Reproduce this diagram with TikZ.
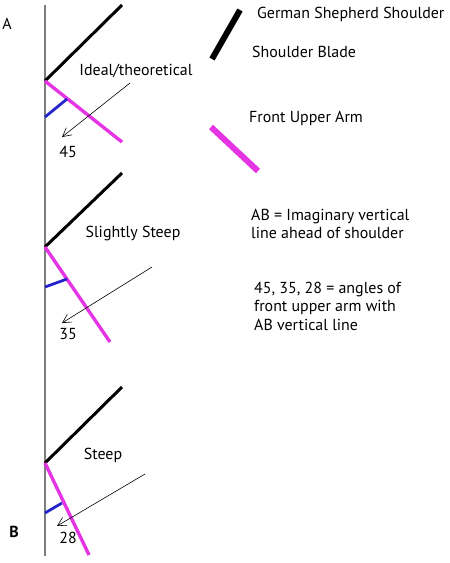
\documentclass[tikz,border=0pt]{standalone}
\usepackage{fontspec}
\setmainfont{PT Sans}
\usepackage{tikz}
\usetikzlibrary{arrows.meta, positioning}
\definecolor{armpink}{RGB}{228,52,228}
\definecolor{strutblue}{RGB}{36,36,204}
\definecolor{abgray}{RGB}{125,125,125}
\tikzset{
  blade/.style={line width=3pt, black},
  arm/.style={line width=3.4pt, armpink},
  strut/.style={line width=2.8pt, strutblue},
  pointer/.style={-{Straight Barb[length=3mm, width=3.2mm]}, line width=0.6pt},
  label/.style={font=\fontsize{16}{18.5}\selectfont, inner sep=0pt, align=left}
}

\begin{document}
\begin{tikzpicture}[x=1bp, y=-1bp]
        \useasboundingbox (0,0) rectangle (450,563);

        % Vertical line AB
        \coordinate (A) at (45,5);
        \coordinate (B) at (45,556);
        \draw[abgray, line width=1.3pt] (A) -- (B);
        \node[label] (lblA) at (7,24) {A};
        \node[label, font=\bfseries\fontsize{16}{18}\selectfont] (lblB) at (14,532) {B};

        % Ideal / theoretical
        \coordinate (j1) at (45,81);
        \draw[blade] (j1) -- (122,5);
        \draw[arm]   (j1) -- (122,142);
        \draw[strut] (45,117) -- (67,99);
        \node[label] (ideal) at (136,71) {Ideal/theoretical};
        \node[label] (a45) at (68,152) {45};
        \coordinate (t1) at (62,137);
        \draw[pointer] (130,83) -- (t1);

        % Slightly steep
        \coordinate (j2) at (45,247);
        \draw[blade] (j2) -- (122,173);
        \draw[arm]   (j2) -- (110,342);
        \draw[strut] (45,287) -- (67,279);
        \node[label] (slight) at (133,234) {Slightly Steep};
        \node[label] (a35) at (68,334) {35};
        \coordinate (s2) at (152,267);
        \coordinate (t2) at (62,323);
        \draw[pointer] (s2) -- (t2);

        % Steep
        \coordinate (j3) at (45,463);
        \draw[blade] (j3) -- (122,387);
        \draw[arm]   (j3) -- (89,555);
        \draw[strut] (45,513) -- (62,503);
        \node[label] (steep) at (103,455) {Steep};
        \node[label] (a28) at (68,538) {28};
        \coordinate (s3) at (145,474);
        \coordinate (t3) at (57,526);
        \draw[pointer] (s3) -- (t3);

        % Legend
        \draw[black, line width=6pt] (240,10) -- (212,59);
        \node[label, anchor=west] (german) at (257,14) {German Shepherd Shoulder};
        \node[label, anchor=west] (sblade) at (252,52) {Shoulder Blade};
        \draw[armpink, line width=6pt] (211,127) -- (258,171);
        \node[label, anchor=west] (upper) at (249,118) {Front Upper Arm};

        % Notes
        \node[label, anchor=west] (noteab) at (251,224) {AB = Imaginary vertical\\line ahead of shoulder};
        \node[label, anchor=west] (noteang) at (254,306) {45, 35, 28 = angles of\\front upper arm with\\AB vertical line};
    \end{tikzpicture}
\end{document}
